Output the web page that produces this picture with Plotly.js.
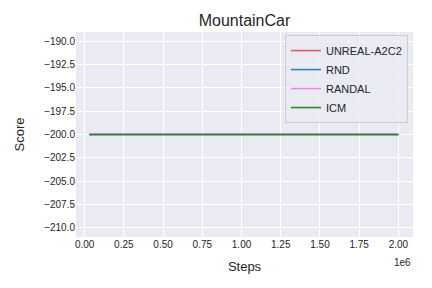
<!DOCTYPE html>
<html>
<head>
<meta charset="utf-8">
<script src="https://cdn.plot.ly/plotly-3.0.1.min.js"></script>
<style>html,body{margin:0;padding:0;background:#fff;}#chart{width:432px;height:288px;}</style>
</head>
<body>
<div id="chart"></div>
<script>
// Data
const seriesNames = ["UNREAL-A2C2", "RND", "RANDAL", "ICM"];
const seriesColors = ["#d65f5f", "#238f9e", "#ee82ee", "#2a8a2a"];
const steps = [30000, 250000, 500000, 750000, 1000000, 1250000, 1500000, 1750000, 2000000];
const unrealScores = [-200, -200, -200, -200, -200, -200, -200, -200, -200];
const rndScores = [-200, -200, -200, -200, -200, -200, -200, -200, -200];
const randalScores = [-200, -200, -200, -200, -200, -200, -200, -200, -200];
const icmScores = [-200, -200, -200, -200, -200, -200, -200, -200, -200];
const xTickVals = [0, 250000, 500000, 750000, 1000000, 1250000, 1500000, 1750000, 2000000];
const xTickText = ["0.00", "0.25", "0.50", "0.75", "1.00", "1.25", "1.50", "1.75", "2.00"];
const yTickVals = [-210, -207.5, -205, -202.5, -200, -197.5, -195, -192.5, -190];
const yTickText = ["\u2212210.0", "\u2212207.5", "\u2212205.0", "\u2212202.5", "\u2212200.0", "\u2212197.5", "\u2212195.0", "\u2212192.5", "\u2212190.0"];

const allScores = [unrealScores, rndScores, randalScores, icmScores];
const traces = allScores.map((ys, i) => ({
  x: steps, y: ys, type: "scatter", mode: "lines",
  name: seriesNames[i],
  line: {color: seriesColors[i], width: 1.6}
}));

const font = "'Liberation Sans', Arial, sans-serif";
const layout = {
  width: 432, height: 288,
  margin: {l: 76, r: 19, t: 32, b: 51},
  paper_bgcolor: "#ffffff",
  plot_bgcolor: "#eaeaf2",
  font: {family: font, color: "#262626", size: 10},
  title: {text: "MountainCar", font: {size: 16, color: "#262626", family: font}, x: 0.5, xref: "paper", xanchor: "center", y: 0.93, yref: "container", yanchor: "middle"},
  xaxis: {
    range: [-55000, 2093000],
    tickvals: xTickVals, ticktext: xTickText,
    showgrid: true, gridcolor: "#ffffff", gridwidth: 1,
    zeroline: false, showline: false, ticks: "",
    tickfont: {size: 10, color: "#262626"},
    title: {text: "Steps", font: {size: 13, color: "#262626"}, standoff: 12}
  },
  yaxis: {
    range: [-211, -189],
    tickvals: yTickVals, ticktext: yTickText,
    showgrid: true, gridcolor: "#ffffff", gridwidth: 1,
    zeroline: false, showline: false, ticks: "",
    tickfont: {size: 10, color: "#262626"},
    title: {text: "Score", font: {size: 13, color: "#262626"}, standoff: 16}
  },
  showlegend: true,
  legend: {
    x: 0.985, y: 0.985, xanchor: "right", yanchor: "top",
    bgcolor: "rgba(234,234,242,0.8)", bordercolor: "#cccccc", borderwidth: 1,
    font: {size: 11, color: "#262626"},
    tracegroupgap: 0
  },
  annotations: [{
    text: "1e6", xref: "paper", yref: "paper", x: 1, y: -0.09,
    xanchor: "right", yanchor: "top", showarrow: false,
    font: {size: 10, color: "#262626"}
  }]
};

Plotly.newPlot("chart", traces, layout, {displayModeBar: false, staticPlot: true});
</script>
</body>
</html>
